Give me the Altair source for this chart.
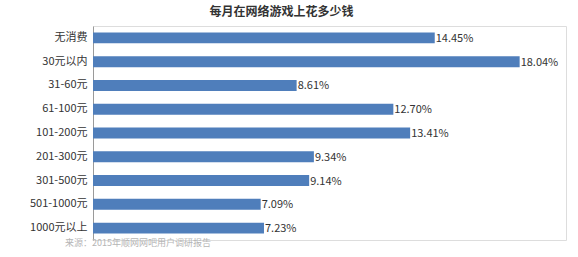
import altair as alt
import pandas as pd

categories = ["无消费", "30元以内", "31-60元", "61-100元", "101-200元", "201-300元", "301-500元", "501-1000元", "1000元以上"]
values = [14.45, 18.04, 8.61, 12.70, 13.41, 9.34, 9.14, 7.09, 7.23]
labels = ["14.45%", "18.04%", "8.61%", "12.70%", "13.41%", "9.34%", "9.14%", "7.09%", "7.23%"]
title_text = "每月在网络游戏上花多少钱"
source_text = "来源：2015年顺网网吧用户调研报告"

df = pd.DataFrame({"cat": categories, "val": values, "lab": labels})

FONT = "Noto Sans CJK SC"

y_enc = alt.Y("cat:N", sort=categories,
              scale=alt.Scale(paddingInner=0.54, paddingOuter=0.27),
              axis=alt.Axis(title=None, ticks=False, labelFont=FONT, labelFontSize=11,
                            labelColor="#333333", labelPadding=6, domainColor="#9a9a9a",
                            domainWidth=1, grid=False))
x_enc = alt.X("val:Q", scale=alt.Scale(domain=[0, 20]), axis=None)

bars = alt.Chart(df).mark_bar(color="#4F7EBB").encode(x=x_enc, y=y_enc)
text = alt.Chart(df).mark_text(align="left", baseline="middle", dx=1, dy=1, font=FONT,
                               fontSize=11, color="#333333").encode(x=x_enc, y=y_enc, text="lab:N")
src = alt.Chart(pd.DataFrame({"t": [source_text]})).mark_text(
    align="left", baseline="middle", font=FONT, fontSize=9, color="#b5b5b5"
).encode(x=alt.value(-28), y=alt.value(217), text="t:N")

chart = alt.layer(bars, text, src).properties(
    width=473, height=214,
    title=alt.TitleParams(title_text, font=FONT, fontSize=12, fontWeight="bold",
                          color="#333333", anchor="middle", dx=-48, offset=7),
    autosize=alt.AutoSizeParams(type="none"),
    padding={"left": 93, "top": 26, "right": 12, "bottom": 17},
).configure_view(stroke=None).configure(background="white")

chart.save("out.html", embed_options={"renderer": "svg", "actions": False})
